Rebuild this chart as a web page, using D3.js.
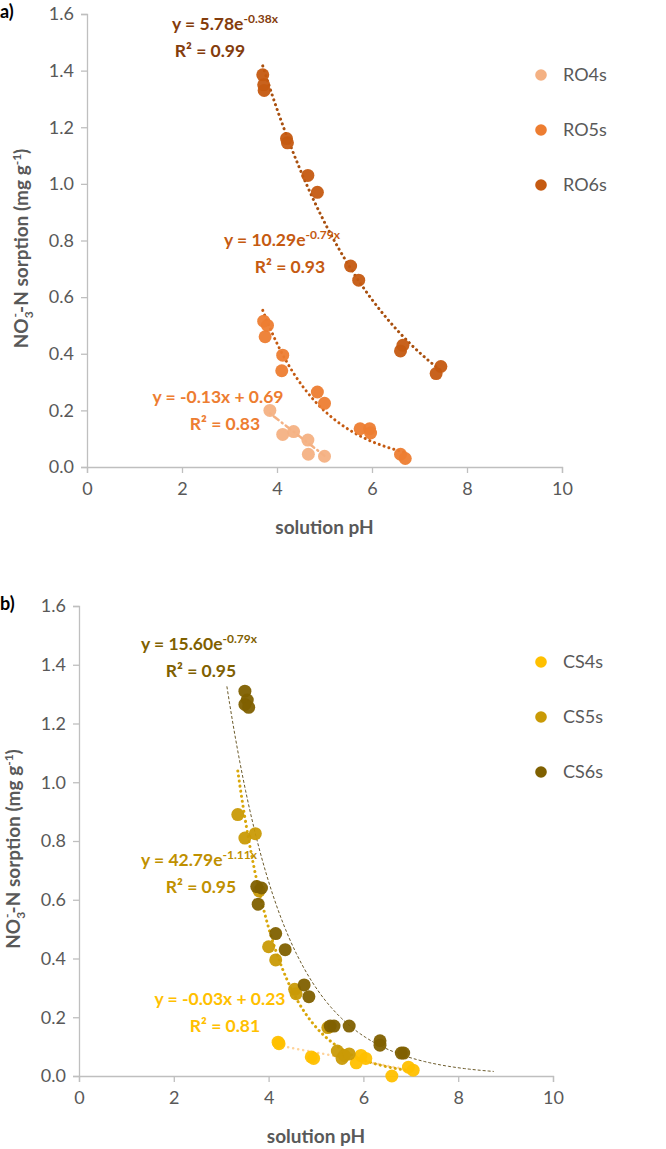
<!DOCTYPE html>
<html><head><meta charset="utf-8">
<script src="https://cdn.jsdelivr.net/npm/d3@7/dist/d3.min.js"></script>
<style>body{margin:0;background:#fff}svg{display:block;font-family:Lato,"Open Sans",sans-serif}</style>
</head><body>
<svg id="c" width="666" height="1149"></svg>
<script>
// ---------- data ----------
const xTicks = [0, 2, 4, 6, 8, 10];
const yTicks = [0, 0.2, 0.4, 0.6, 0.8, 1.0, 1.2, 1.4, 1.6];

const seriesA = ["RO4s", "RO5s", "RO6s"];
const colorsA = ["#F4B183", "#ED7D31", "#C55A11"];
const ro4sX = [3.85, 4.12, 4.35, 4.65, 4.66, 5.0];
const ro4sY = [0.20, 0.115, 0.125, 0.095, 0.045, 0.038];
const ro5sX = [3.72, 3.8, 3.75, 4.12, 4.1, 4.85, 5.0, 5.75, 5.95, 5.97, 6.6, 6.7];
const ro5sY = [0.515, 0.50, 0.46, 0.395, 0.34, 0.265, 0.225, 0.135, 0.135, 0.12, 0.045, 0.03];
const ro6sX = [3.7, 3.72, 3.73, 4.2, 4.22, 4.65, 4.85, 5.55, 5.72, 6.6, 6.65, 7.35, 7.45];
const ro6sY = [1.385, 1.35, 1.33, 1.16, 1.145, 1.03, 0.97, 0.71, 0.66, 0.41, 0.43, 0.33, 0.355];

const seriesB = ["CS4s", "CS5s", "CS6s"];
const colorsB = ["#FFC000", "#C99A06", "#7F6000"];
const cs4sX = [4.2, 4.22, 4.9, 4.95, 5.85, 5.95, 6.05, 6.6, 6.95, 7.05];
const cs4sY = [0.115, 0.11, 0.065, 0.06, 0.045, 0.07, 0.06, 0.0, 0.03, 0.02];
const cs5sX = [3.35, 3.5, 3.72, 3.8, 4.0, 4.15, 4.55, 4.58, 5.25, 5.45, 5.55, 5.6, 5.7];
const cs5sY = [0.89, 0.81, 0.825, 0.63, 0.44, 0.395, 0.295, 0.28, 0.165, 0.085, 0.06, 0.07, 0.075];
const cs6sX = [3.5, 3.55, 3.5, 3.58, 3.75, 3.85, 3.78, 4.15, 4.35, 4.75, 4.85, 5.3, 5.38, 5.7, 6.35, 6.35, 6.8, 6.85];
const cs6sY = [1.31, 1.28, 1.265, 1.255, 0.645, 0.64, 0.585, 0.485, 0.43, 0.31, 0.27, 0.17, 0.17, 0.17, 0.12, 0.105, 0.078, 0.078];

// trendline coefficients: [type, a, b, xStart, xEnd]
const trendA = [["lin", -0.13, 0.69, 3.85, 5.0], ["exp", 10.29, -0.79, 3.7, 6.75], ["exp", 5.78, -0.38, 3.7, 7.45]];
const trendB = [["lin", -0.03, 0.23, 4.2, 7.05], ["exp", 42.79, -1.11, 3.35, 6.9], ["exp", 15.60, -0.79, 3.12, 8.75]];
const eqA = [["y = -0.13x + 0.69", "", "R² = 0.83"], ["y = 10.29e", "-0.79x", "R² = 0.93"], ["y = 5.78e", "-0.38x", "R² = 0.99"]];
const eqB = [["y = -0.03x + 0.23", "", "R² = 0.81"], ["y = 42.79e", "-1.11x", "R² = 0.95"], ["y = 15.60e", "-0.79x", "R² = 0.95"]];

// ---------- drawing ----------
const svg = d3.select("#c");

function drawPanel(p) {
  const g = svg.append("g");
  const x = d3.scaleLinear().domain([0, 10]).range([p.left, p.right]);
  const y = d3.scaleLinear().domain([0, 1.6]).range([p.bottom, p.top]);

  const xa = g.append("g").attr("transform", `translate(0,${p.bottom})`)
    .call(d3.axisBottom(x).tickValues(xTicks).tickSize(6).tickPadding(9).tickFormat(d3.format("d")));
  const ya = g.append("g").attr("transform", `translate(${p.left},0)`)
    .call(d3.axisLeft(y).tickValues(yTicks).tickSize(6).tickPadding(7).tickFormat(d3.format(".1f")));
  [xa, ya].forEach(a => {
    a.selectAll("path,line").attr("stroke", "#BFBFBF").attr("stroke-width", 1.3);
    a.selectAll("text").attr("fill", "#595959").style("font-size", "18px").style("font-family", "Lato, sans-serif");
  });

  // trendlines
  const line = d3.line().x(d => x(d[0])).y(d => y(d[1]));
  p.trends.forEach((t, i) => {
    const pts = d3.range(0, 101).map(k => {
      const xv = t[3] + (t[4] - t[3]) * k / 100;
      return [xv, t[0] === "lin" ? t[1] * xv + t[2] : t[1] * Math.exp(t[2] * xv)];
    });
    const st = p.trendStyle[i];
    g.append("path").attr("d", line(pts)).attr("fill", "none")
      .attr("stroke", st.color).attr("stroke-width", st.w)
      .attr("stroke-dasharray", st.dash).attr("stroke-linecap", st.cap);
  });

  // points
  p.data.forEach((s, i) => {
    g.append("g").selectAll("circle").data(d3.zip(s[0], s[1])).join("circle")
      .attr("cx", d => x(d[0])).attr("cy", d => y(d[1])).attr("r", 6.5)
      .attr("fill", p.colors[i]).attr("fill-opacity", 0.95);
  });

  // legend
  p.names.forEach((n, i) => {
    const ly = p.legY + i * p.legGap;
    g.append("circle").attr("cx", p.legX).attr("cy", ly).attr("r", 5.8).attr("fill", p.colors[i]);
    g.append("text").attr("x", p.legX + 22).attr("y", ly + 6).text(n)
      .attr("fill", "#595959").style("font-size", "18px");
  });

  // equations
  p.eqs.forEach((e, i) => {
    const pos = p.eqPos[i];
    const t = g.append("text").attr("x", pos[0]).attr("y", pos[1]).attr("text-anchor", "middle")
      .attr("fill", p.eqColors[i]).style("font-size", "17.5px").style("font-weight", "bold");
    t.append("tspan").text(e[0]);
    if (e[1]) t.append("tspan").attr("dy", -7).style("font-size", "12px").text(e[1]);
    g.append("text").attr("x", pos[2]).attr("y", pos[1] + 27).attr("text-anchor", "middle")
      .attr("fill", p.eqColors[i]).style("font-size", "17.5px").style("font-weight", "bold").text(e[2]);
  });

  // axis titles
  g.append("text").attr("x", (p.left + p.right) / 2).attr("y", p.bottom + 67).attr("text-anchor", "middle")
    .attr("fill", "#595959").style("font-size", "19px").style("font-weight", "bold").text("solution pH");
  const yt = g.append("text").attr("transform", `translate(${p.left - 59},${(p.top + p.bottom) / 2 + 8}) rotate(-90)`)
    .attr("text-anchor", "middle").attr("fill", "#595959").style("font-size", "19px").style("font-weight", "bold");
  yt.append("tspan").text("NO");
  yt.append("tspan").attr("dy", 5).style("font-size", "12px").text("3");
  yt.append("tspan").attr("dy", -14).attr("dx", -6).style("font-size", "12px").text("-");
  yt.append("tspan").attr("dy", 9).text("-N sorption (mg g");
  yt.append("tspan").attr("dy", -7).style("font-size", "12px").text("-1");
  yt.append("tspan").attr("dy", 7).text(")");

  g.append("text").attr("x", 0).attr("y", p.top + 4).attr("fill", "#000")
    .style("font-size", "18px").style("font-weight", "bold").text(p.tag);
}

drawPanel({
  tag: "a)", left: 87, right: 562, top: 14, bottom: 467,
  data: [[ro4sX, ro4sY], [ro5sX, ro5sY], [ro6sX, ro6sY]],
  names: seriesA, colors: colorsA, legX: 541, legY: 75, legGap: 55,
  trends: trendA,
  trendStyle: [
    { color: "#F4B183", w: 2.5, dash: "1,4,6,4", cap: "round" },
    { color: "#C55A11", w: 3, dash: "0.1,5", cap: "round" },
    { color: "#A9500F", w: 3, dash: "0.1,5", cap: "round" }],
  eqs: eqA, eqColors: ["#ED7D31", "#C55A11", "#843C0C"],
  eqPos: [[218, 403, 225], [282, 246, 290], [225, 30, 210]]
});

drawPanel({
  tag: "b)", left: 79, right: 553, top: 606, bottom: 1076,
  data: [[cs4sX, cs4sY], [cs5sX, cs5sY], [cs6sX, cs6sY]],
  names: seriesB, colors: colorsB, legX: 541, legY: 662, legGap: 55,
  trends: trendB,
  trendStyle: [
    { color: "#FFD39A", w: 2.5, dash: "0.1,5", cap: "round" },
    { color: "#D9A70A", w: 3, dash: "0.1,5", cap: "round" },
    { color: "#6B5A2A", w: 1, dash: "3,2", cap: "butt" }],
  eqs: eqB, eqColors: ["#FFC000", "#BF9000", "#7F6000"],
  eqPos: [[220, 1005, 225], [199, 866, 201], [199, 650, 201]]
});
</script>
</body></html>
